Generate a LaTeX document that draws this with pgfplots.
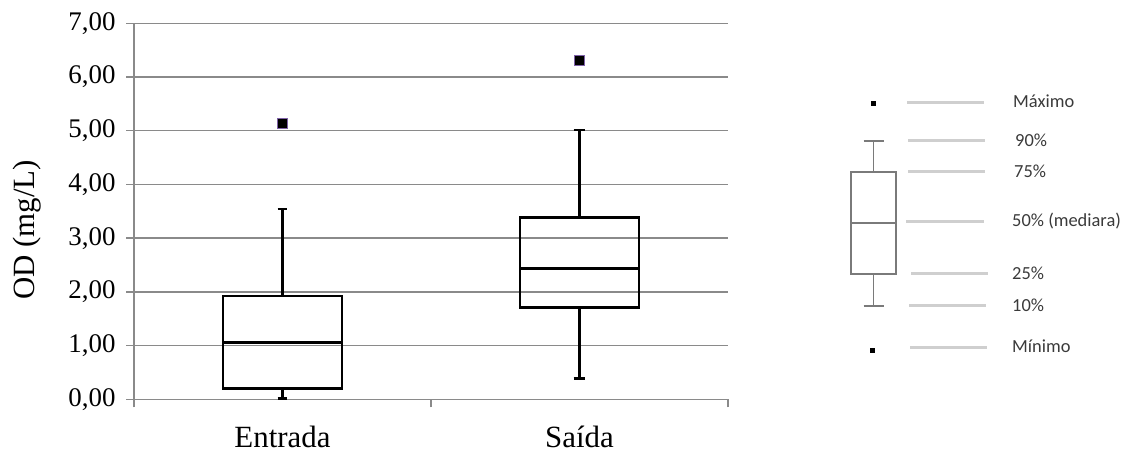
\documentclass[border=0pt]{standalone}
\usepackage{pgfplots}
\pgfplotsset{compat=1.18}
\usepgfplotslibrary{statistics}
\usepackage{fontspec}
\setmainfont{Liberation Serif}
\newfontfamily\legfont{Carlito}
\definecolor{gridgray}{HTML}{8A8A8A}
\definecolor{outpurple}{HTML}{7F62A8}
\definecolor{leglinegray}{HTML}{CFCFCF}
\definecolor{legboxgray}{HTML}{7A7A7A}
\definecolor{legtext}{HTML}{3A3A3A}
\begin{document}
\begin{tikzpicture}[x=1bp,y=1bp]
\useasboundingbox (0,0) rectangle (1127,453);
% main chart
\begin{axis}[
  at={(134bp,53.7bp)}, anchor=south west,
  scale only axis, width=594bp, height=376bp,
  xmin=0, xmax=2, ymin=0, ymax=7,
  boxplot/draw direction=y,
  axis lines=left, axis line style={-, gridgray, line width=1.5bp},
  xtick={0,1,2}, xticklabels={}, 
  ytick={0,1,...,7},
  ymajorgrids, grid style={gridgray, line width=1.5bp},
  tick style={gridgray, line width=1.5bp},
  major tick length=8bp, tick align=outside,
  extra x ticks={0.5,1.5}, extra x tick labels={Entrada,Saída},
  extra x tick style={major tick length=0bp, grid=none,
     tick label style={font=\fontsize{31}{31}\selectfont, anchor=base, yshift=-48.5bp}},
  yticklabel style={font=\fontsize{27}{27}\selectfont, xshift=-7bp},
  /pgf/number format/.cd, use comma, fixed, fixed zerofill, precision=2, assume math mode=true,
  /pgfplots/.cd,
  ylabel={OD (mg/L)},
  ylabel style={font=\fontsize{31}{31}\selectfont, at={(axis description cs:-0.180,0.45)}, anchor=center, rotate=0},
  clip=false,
]
\addplot+[black, line width=2.6bp, solid, no marks,
  boxplot prepared={draw position=0.5, box extend=0.4, whisker extend=0.033,
    lower whisker=0.01, lower quartile=0.20, median=1.06, upper quartile=1.92, upper whisker=3.54}]
  coordinates {};
\addplot+[black, line width=2.6bp, solid, no marks,
  boxplot prepared={draw position=1.5, box extend=0.4, whisker extend=0.04,
    lower whisker=0.39, lower quartile=1.71, median=2.44, upper quartile=3.38, upper whisker=5.01}]
  coordinates {};
\addplot[only marks, mark=square*, mark size=5bp, mark options={fill=black, draw=outpurple, line width=1bp}]
  coordinates {(0.5,5.14) (1.5,6.30)};
\end{axis}
% legend diagram
\begin{axis}[
  at={(830bp,73bp)}, anchor=south west,
  scale only axis, width=297bp, height=300bp,
  xmin=830, xmax=1127, ymin=73, ymax=373,
  boxplot/draw direction=y,
  hide axis, clip=false,
]
\addplot+[legboxgray, line width=1.6bp, solid, no marks,
  boxplot prepared={draw position=873.5, box extend=45, whisker extend=20,
    lower whisker=147, lower quartile=179, median=230, upper quartile=281, upper whisker=312}]
  coordinates {};
\addplot[only marks, mark=square*, mark size=1.8bp, black] coordinates {(873,350) (872,103)};
\addplot[leglinegray, line width=3bp] coordinates {(907,350) (984,350)};
\addplot[leglinegray, line width=3bp] coordinates {(908,312) (985,312)};
\addplot[leglinegray, line width=3bp] coordinates {(908,281) (985,281)};
\addplot[leglinegray, line width=3bp] coordinates {(906,231) (984,231)};
\addplot[leglinegray, line width=3bp] coordinates {(911,179) (988,179)};
\addplot[leglinegray, line width=3bp] coordinates {(909,147) (986,147)};
\addplot[leglinegray, line width=3bp] coordinates {(910,105) (987,105)};
\begin{scope}[every node/.style={anchor=west, inner sep=0pt, text=legtext, font=\legfont\fontsize{18.5}{18.5}\selectfont}]
\node at (axis cs:1013,352) {Máximo};
\node at (axis cs:1015,313) {90\%};
\node at (axis cs:1014,282) {75\%};
\node at (axis cs:1012,232) {50\% (mediara)};
\node at (axis cs:1012,180) {25\%};
\node at (axis cs:1012,148) {10\%};
\node at (axis cs:1012,107) {Mínimo};
\end{scope}
\end{axis}
\end{tikzpicture}
\end{document}
